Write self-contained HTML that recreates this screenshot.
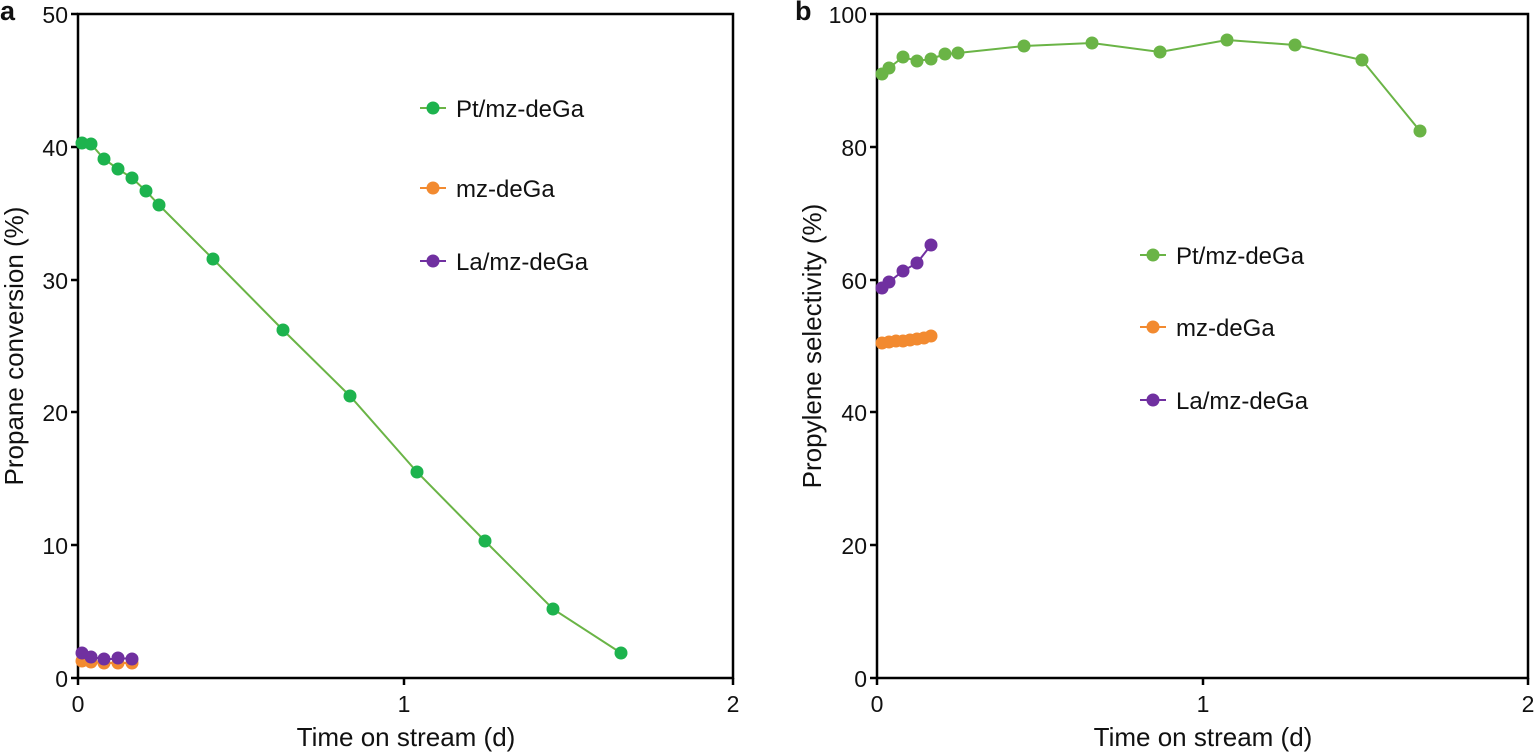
<!DOCTYPE html><html><head><style>body{margin:0;background:#fff}svg{display:block}text{font-family:"Liberation Sans",Arial,sans-serif;fill:#111}</style></head><body>
<svg width="1540" height="752" viewBox="0 0 1540 752">
<g stroke="#000" stroke-width="2.5" fill="none">
<rect x="78" y="14" width="655" height="664"/>
<rect x="877" y="14" width="651" height="664"/>
<path d="M71 14h7M71 147h7M71 280h7M71 412h7M71 545h7M71 678h7M78 678v7M404 678v7M733 678v7"/>
<path d="M870 14h7M870 147h7M870 280h7M870 412h7M870 545h7M870 678h7M877 678v7M1203 678v7M1528 678v7"/>
</g>
<g font-size="23" text-anchor="end">
<text x="68" y="23">50</text><text x="68" y="156">40</text><text x="68" y="289">30</text><text x="68" y="421">20</text><text x="68" y="554">10</text><text x="68" y="687">0</text>
<text x="867" y="23">100</text><text x="867" y="156">80</text><text x="867" y="289">60</text><text x="867" y="421">40</text><text x="867" y="554">20</text><text x="867" y="687">0</text>
</g>
<g font-size="23" text-anchor="middle">
<text x="78" y="712">0</text><text x="404" y="712">1</text><text x="733" y="712">2</text>
<text x="877" y="712">0</text><text x="1203" y="712">1</text><text x="1528" y="712">2</text>
</g>
<g font-size="26" text-anchor="middle">
<text x="406" y="746">Time on stream (d)</text><text x="1203" y="746">Time on stream (d)</text>
<text transform="translate(23,346) rotate(-90)">Propane conversion (%)</text>
<text transform="translate(821,346) rotate(-90)">Propylene selectivity (%)</text>
</g>
<text x="0" y="20" font-size="27" font-weight="bold">a</text>
<text x="795" y="20" font-size="27" font-weight="bold">b</text>
<polyline fill="none" stroke="#6ab446" stroke-width="2" points="82,143 91,144 104,159 118,169 132,178 146,191 159,205 213,259 283,330 350,396 417,472 485,541 553,609 621,653"/>
<g fill="#1db34e"><circle cx="82" cy="143" r="6.5"/><circle cx="91" cy="144" r="6.5"/><circle cx="104" cy="159" r="6.5"/><circle cx="118" cy="169" r="6.5"/><circle cx="132" cy="178" r="6.5"/><circle cx="146" cy="191" r="6.5"/><circle cx="159" cy="205" r="6.5"/><circle cx="213" cy="259" r="6.5"/><circle cx="283" cy="330" r="6.5"/><circle cx="350" cy="396" r="6.5"/><circle cx="417" cy="472" r="6.5"/><circle cx="485" cy="541" r="6.5"/><circle cx="553" cy="609" r="6.5"/><circle cx="621" cy="653" r="6.5"/></g>
<polyline fill="none" stroke="#f28a30" stroke-width="2" points="82,661 91,662 104,663 118,663 132,663"/>
<g fill="#f28a30"><circle cx="82" cy="661" r="6.5"/><circle cx="91" cy="662" r="6.5"/><circle cx="104" cy="663" r="6.5"/><circle cx="118" cy="663" r="6.5"/><circle cx="132" cy="663" r="6.5"/></g>
<polyline fill="none" stroke="#7030a0" stroke-width="2" points="82,653 91,657 104,659 118,659 132,658"/>
<g fill="#7030a0"><circle cx="82" cy="653" r="6.5"/><circle cx="91" cy="657" r="6.5"/><circle cx="104" cy="659" r="6.5"/><circle cx="118" cy="658" r="6.5"/><circle cx="132" cy="659" r="6.5"/></g>
<g stroke-width="2"><line x1="420" y1="108" x2="446" y2="108" stroke="#6ab446"/><line x1="420" y1="188" x2="446" y2="188" stroke="#f28a30"/><line x1="420" y1="261" x2="446" y2="261" stroke="#7030a0"/></g>
<circle cx="433" cy="108" r="6.5" fill="#1db34e"/><circle cx="433" cy="188" r="6.5" fill="#f28a30"/><circle cx="433" cy="261" r="6.5" fill="#7030a0"/>
<g font-size="24"><text x="456" y="117">Pt/mz-deGa</text><text x="456" y="197">mz-deGa</text><text x="456" y="270">La/mz-deGa</text></g>
<polyline fill="none" stroke="#6ab446" stroke-width="2" points="882,74 889,68 903,57 917,61 931,59 945,54 958,53 1024,46 1092,43 1160,52 1227,40 1295,45 1362,60 1420,131"/>
<g fill="#6ab446"><circle cx="882" cy="74" r="6.5"/><circle cx="889" cy="68" r="6.5"/><circle cx="903" cy="57" r="6.5"/><circle cx="917" cy="61" r="6.5"/><circle cx="931" cy="59" r="6.5"/><circle cx="945" cy="54" r="6.5"/><circle cx="958" cy="53" r="6.5"/><circle cx="1024" cy="46" r="6.5"/><circle cx="1092" cy="43" r="6.5"/><circle cx="1160" cy="52" r="6.5"/><circle cx="1227" cy="40" r="6.5"/><circle cx="1295" cy="45" r="6.5"/><circle cx="1362" cy="60" r="6.5"/><circle cx="1420" cy="131" r="6.5"/></g>
<polyline fill="none" stroke="#f28a30" stroke-width="2" points="882,343 889,342 896,341 903,341 910,340 917,339 924,338 931,336"/>
<g fill="#f28a30"><circle cx="882" cy="343" r="6.5"/><circle cx="889" cy="342" r="6.5"/><circle cx="896" cy="341" r="6.5"/><circle cx="903" cy="341" r="6.5"/><circle cx="910" cy="340" r="6.5"/><circle cx="917" cy="339" r="6.5"/><circle cx="924" cy="338" r="6.5"/><circle cx="931" cy="336" r="6.5"/></g>
<polyline fill="none" stroke="#7030a0" stroke-width="2" points="882,288 889,282 903,271 917,263 931,245"/>
<g fill="#7030a0"><circle cx="882" cy="288" r="6.5"/><circle cx="889" cy="282" r="6.5"/><circle cx="903" cy="271" r="6.5"/><circle cx="917" cy="263" r="6.5"/><circle cx="931" cy="245" r="6.5"/></g>
<g stroke-width="2"><line x1="1140" y1="255" x2="1166" y2="255" stroke="#6ab446"/><line x1="1140" y1="327" x2="1166" y2="327" stroke="#f28a30"/><line x1="1140" y1="400" x2="1166" y2="400" stroke="#7030a0"/></g>
<circle cx="1153" cy="255" r="6.5" fill="#6ab446"/><circle cx="1153" cy="327" r="6.5" fill="#f28a30"/><circle cx="1153" cy="400" r="6.5" fill="#7030a0"/>
<g font-size="24"><text x="1176" y="264">Pt/mz-deGa</text><text x="1176" y="336">mz-deGa</text><text x="1176" y="409">La/mz-deGa</text></g>
</svg></body></html>
